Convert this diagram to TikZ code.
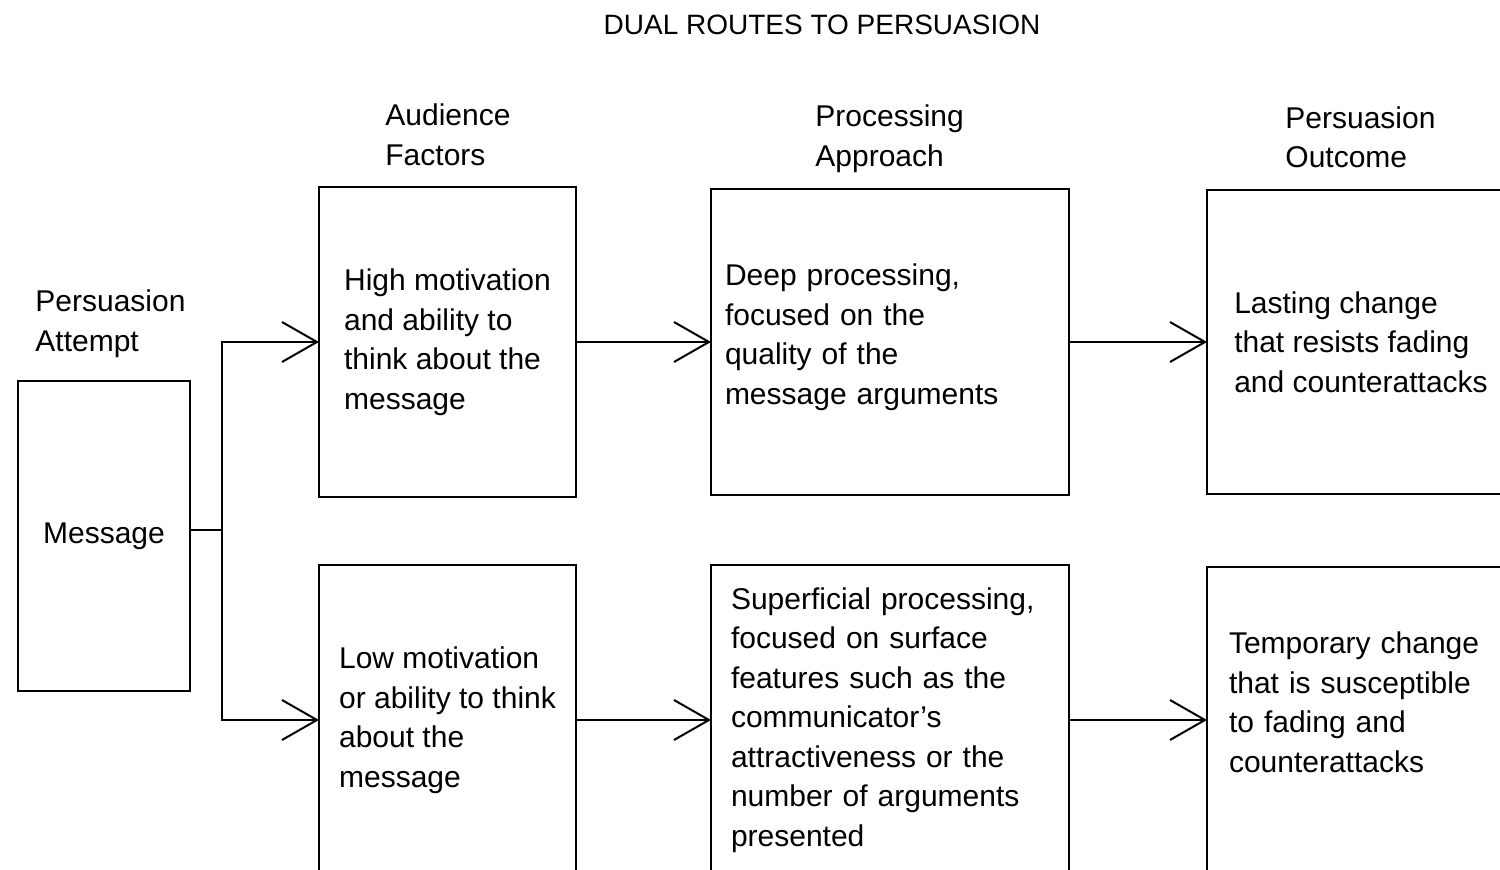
\documentclass[tikz,border=0pt]{standalone}
\usepackage{fontspec}
\setmainfont{Liberation Sans}
\usetikzlibrary{arrows.meta}

\begin{document}
\begin{tikzpicture}[
  x=0.5pt,y=-0.5pt,
  box/.style={draw,line width=1.3pt,inner sep=0pt,outer sep=0pt,align=left,
              font=\fontsize{15}{19.75}\selectfont},
  head/.style={anchor=west,inner sep=0pt,align=left,
               font=\fontsize{15}{19.75}\selectfont},
  arr/.style={-{Straight Barb[length=17.5pt,width=20pt,line width=1pt]},line width=1.3pt},
  conn/.style={line width=1.3pt}]
\useasboundingbox (0,0) rectangle (1500,870);
\clip (0,0) rectangle (1500,870);
\fill[white] (0,0) rectangle (1500,870);
% title and column heads
\node[font=\fontsize{14}{17}\selectfont] (title) at (822,25) {DUAL ROUTES TO PERSUASION};
\node[head] (hdatt) at (35,323.5) {Persuasion\\Attempt};
\node[head] (hdaud) at (385,135) {Audience\\Factors};
\node[head] (hdpro) at (815,139) {Processing\\Approach};
\node[head] (hdout) at (1285,137.5) {Persuasion\\Outcome};
% boxes
\node[box,minimum width=86pt,minimum height=155pt] (msg) at (104,536) {Message};
\node[box,minimum width=128.5pt,minimum height=155pt] (hiaud) at (447.5,342)
  {High motivation\\and ability to\\think about the\\message};
\node[box,text width=165pt,inner xsep=7pt,minimum height=153pt] (hipro) at (890,342)
  {Deep processing,\\focused on the\\quality of the\\message arguments\\[-12pt]\mbox{}};
\node[box,minimum width=154pt,minimum height=152pt] (hiout) at (1361,342)
  {Lasting change\\that resists fading\\and counterattacks};
\node[box,minimum width=128.5pt,minimum height=155pt] (loaud) at (447.5,720)
  {Low motivation\\or ability to think\\about the\\message};
\node[box,text width=159pt,inner xsep=10pt,minimum height=155pt] (lopro) at (890,720)
  {Superficial processing,\\focused on surface\\features such as the\\communicator's\\attractiveness or the\\number of arguments\\presented};
\node[box,text width=132pt,inner xsep=11pt,minimum height=153pt] (loout) at (1361,720)
  {Temporary change\\that is susceptible\\to fading and\\counterattacks\\[-1.75pt]\mbox{}};
% connectors
\coordinate (fork) at (222,530);
\draw[conn] (msg.east |- fork) -- (fork);
\draw[arr] (fork) |- (hiaud.west);
\draw[arr] (fork) |- (loaud.west);
\draw[arr] (hiaud) -- (hipro);
\draw[arr] (hipro) -- (hiout);
\draw[arr] (loaud) -- (lopro);
\draw[arr] (lopro) -- (loout);
\end{tikzpicture}
\end{document}
